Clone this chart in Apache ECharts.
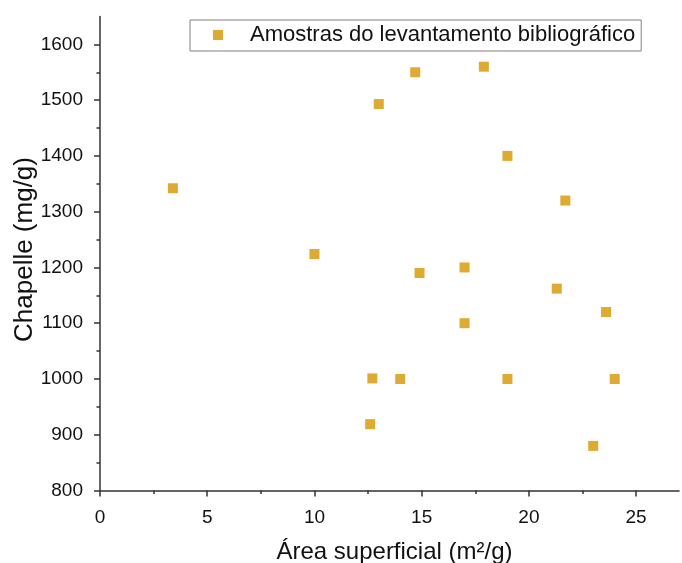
<!DOCTYPE html>
<html>
<head>
<meta charset="utf-8">
<script src="https://cdn.jsdelivr.net/npm/echarts@6/dist/echarts.min.js"></script>
<style>
html,body{margin:0;padding:0;background:#fff;}
#chart{width:682px;height:563px;}
</style>
</head>
<body>
<div id="chart"></div>
<script>
// Data
var seriesName = 'Amostras do levantamento bibliográfico';
var areaValues = [3.4, 10.0, 13.0, 14.7, 17.9, 19.0, 21.7, 14.9, 17.0, 17.0, 12.7, 14.0, 12.6, 21.3, 23.6, 19.0, 24.0, 23.0];
var chapelleValues = [1342, 1224, 1493, 1550, 1560, 1400, 1320, 1190, 1200, 1100, 1001, 1000, 919, 1162, 1120, 1000, 1000, 880];
var xTicks = [0, 5, 10, 15, 20, 25];
var xMinorTicks = [0, 2.5, 5, 7.5, 10, 12.5, 15, 17.5, 20, 22.5, 25];
var yTicks = [800, 900, 1000, 1100, 1200, 1300, 1400, 1500, 1600];
var yMinorTicks = [800, 850, 900, 950, 1000, 1050, 1100, 1150, 1200, 1250, 1300, 1350, 1400, 1450, 1500, 1550, 1600];
var xTitle = 'Área superficial (m²/g)';
var yTitle = 'Chapelle (mg/g)';

var points = areaValues.map(function (x, i) { return [x, chapelleValues[i]]; });

var axisColor = '#333333';
var fontFam = 'Liberation Sans, Arial, sans-serif';

var chart = echarts.init(document.getElementById('chart'), null, {renderer: 'canvas'});
chart.setOption({
  animation: false,
  backgroundColor: '#ffffff',
  grid: {left: 100, top: 16.5, right: 3, bottom: 72.5, containLabel: false, outerBoundsMode: 'none'},
  legend: {
    show: true,
    data: [seriesName],
    left: 190,
    top: 20,
    orient: 'horizontal',
    icon: 'rect',
    itemWidth: 10,
    itemHeight: 10,
    padding: [4, 6, 5, 23],
    borderColor: '#808080',
    borderWidth: 1,
    textStyle: {fontFamily: fontFam, fontSize: 22, color: '#111111', padding: [0, 0, 0, 22]}
  },
  xAxis: [{
    type: 'value', min: 0, max: 27, interval: 5, position: 'bottom',
    name: xTitle, nameLocation: 'middle', nameGap: 50, nameMoveOverlap: false,
    nameTextStyle: {fontFamily: fontFam, fontSize: 24, color: '#111111', padding: [0, 0, 0, 10]},
    axisLine: {show: true, onZero: false, lineStyle: {color: axisColor, width: 1.5}},
    axisTick: {show: true, inside: false, length: 6, customValues: xTicks, lineStyle: {color: axisColor, width: 1.5}},
    axisLabel: {show: true, customValues: xTicks, margin: 18, fontFamily: fontFam, fontSize: 19, color: '#111111'},
    splitLine: {show: false}
  }, {
    type: 'value', min: 0, max: 27, interval: 5, position: 'bottom', offset: 0,
    axisLine: {show: false, onZero: false},
    axisTick: {show: true, inside: false, length: 3.5, customValues: xMinorTicks, lineStyle: {color: axisColor, width: 1.5}},
    axisLabel: {show: false},
    splitLine: {show: false}
  }],
  yAxis: [{
    type: 'value', min: 800, max: 1650, interval: 100, position: 'left',
    name: yTitle, nameLocation: 'middle', nameGap: 62, nameRotate: 90, nameMoveOverlap: false,
    nameTextStyle: {fontFamily: fontFam, fontSize: 26, color: '#111111', padding: [0, 0, 0, 8]},
    axisLine: {show: true, onZero: false, lineStyle: {color: axisColor, width: 1.5}},
    axisTick: {show: true, inside: false, length: 6, customValues: yTicks, lineStyle: {color: axisColor, width: 1.5}},
    axisLabel: {show: true, customValues: yTicks, margin: 17, fontFamily: fontFam, fontSize: 19, color: '#111111',
      formatter: function (v) { return String(v); }},
    splitLine: {show: false}
  }, {
    type: 'value', min: 800, max: 1650, interval: 100, position: 'left', offset: 0,
    axisLine: {show: false, onZero: false},
    axisTick: {show: true, inside: false, length: 3.5, customValues: yMinorTicks, lineStyle: {color: axisColor, width: 1.5}},
    axisLabel: {show: false},
    splitLine: {show: false}
  }],
  series: [{
    name: seriesName,
    type: 'scatter',
    xAxisIndex: 0,
    yAxisIndex: 0,
    symbol: 'rect',
    symbolSize: 10,
    itemStyle: {color: '#DEAA31', opacity: 1},
    data: points
  }]
});
</script>
</body>
</html>
